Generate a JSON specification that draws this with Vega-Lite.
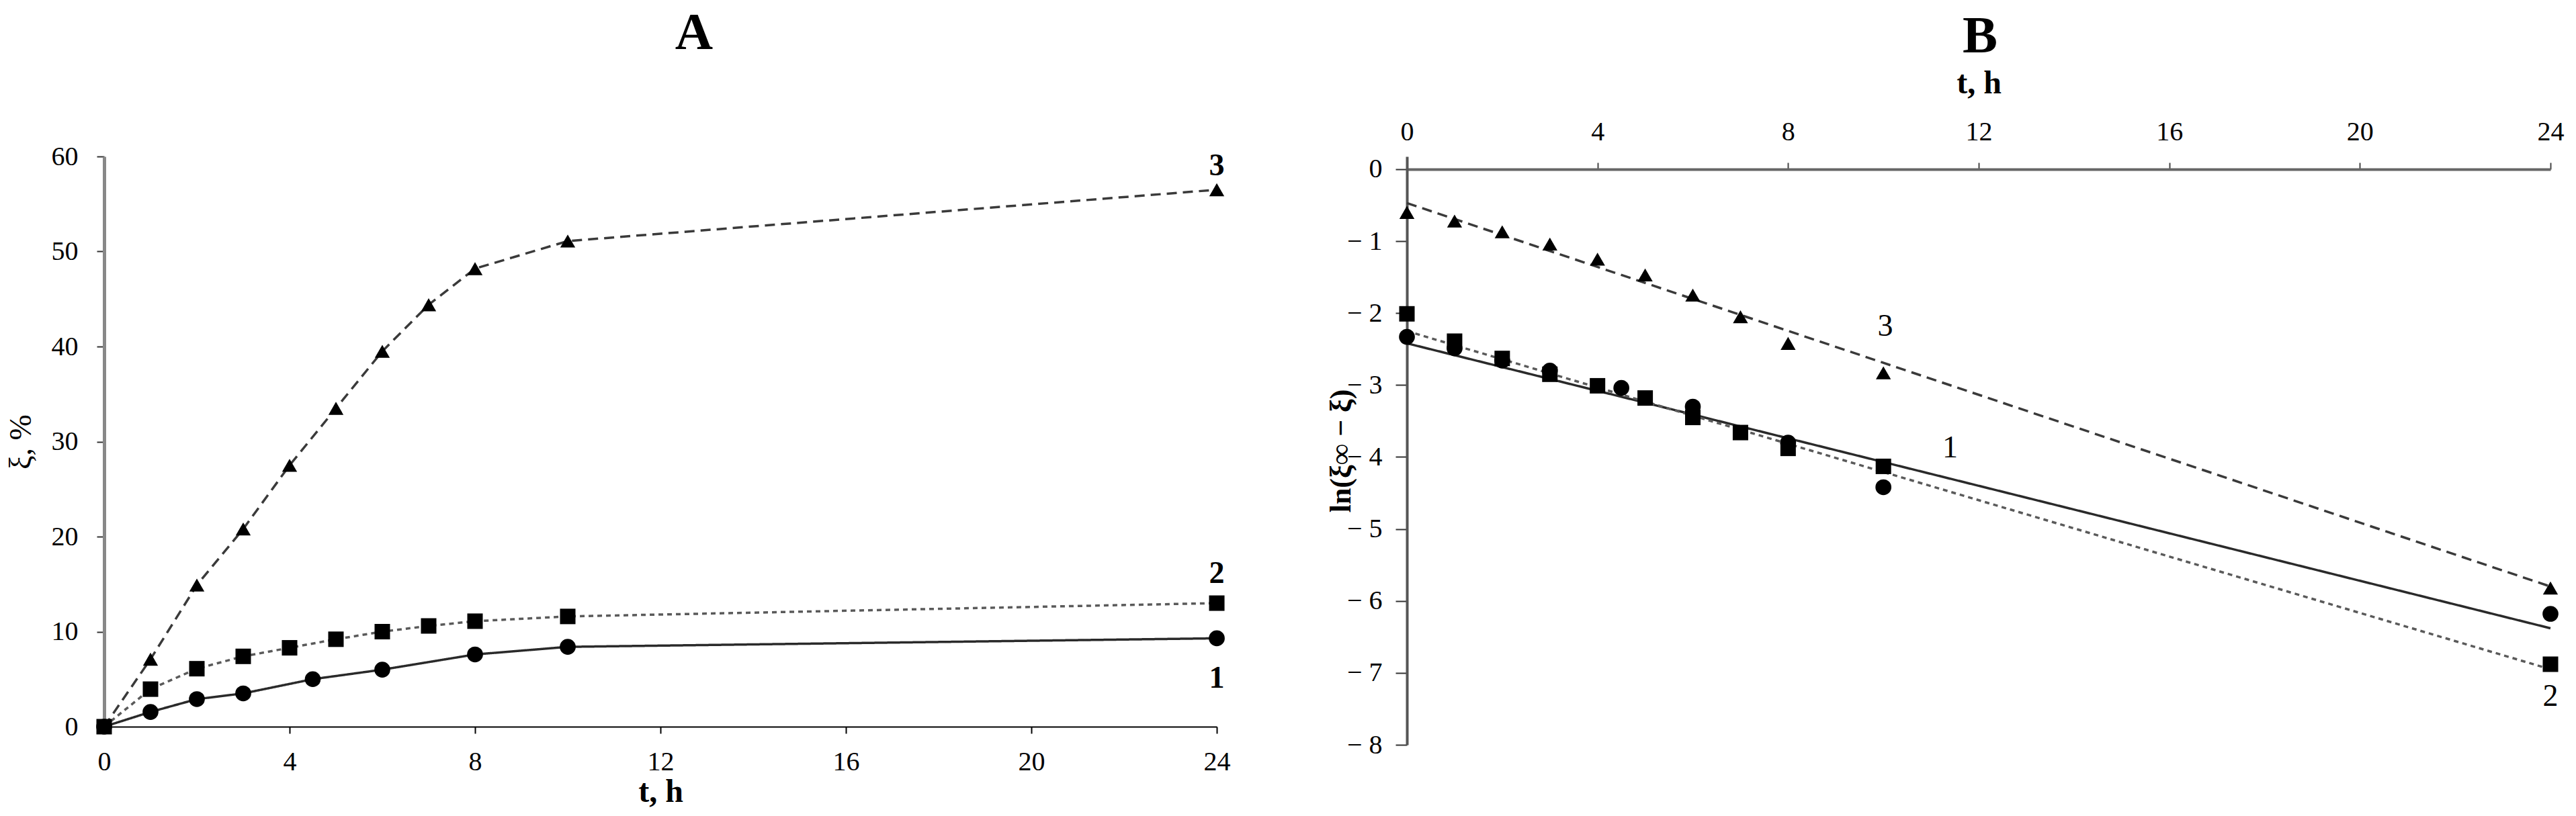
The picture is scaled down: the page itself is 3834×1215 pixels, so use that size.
{
  "$schema": "https://vega.github.io/schema/vega-lite/v6.json",
  "background": "white",
  "padding": {"left": 8, "top": 11, "right": 5, "bottom": 5},
  "bounds": "flush",
  "spacing": 283,
  "config": {
    "font": "Liberation Serif",
    "view": {"stroke": null},
    "axis": {"grid": false, "labelFont": "Liberation Serif", "titleFont": "Liberation Serif", "labelColor": "black", "titleColor": "black"}
  },
  "datasets": {
    "A": [
      {"series": "1", "t": 0, "v": 0}, {"series": "1", "t": 1, "v": 1.55}, {"series": "1", "t": 2, "v": 2.9}, {"series": "1", "t": 3, "v": 3.5}, {"series": "1", "t": 4.5, "v": 5.0}, {"series": "1", "t": 6, "v": 6.0}, {"series": "1", "t": 8, "v": 7.6}, {"series": "1", "t": 10, "v": 8.4}, {"series": "1", "t": 24, "v": 9.3},
      {"series": "2", "t": 0, "v": 0}, {"series": "2", "t": 1, "v": 3.95}, {"series": "2", "t": 2, "v": 6.1}, {"series": "2", "t": 3, "v": 7.4}, {"series": "2", "t": 4, "v": 8.3}, {"series": "2", "t": 5, "v": 9.2}, {"series": "2", "t": 6, "v": 10.0}, {"series": "2", "t": 7, "v": 10.6}, {"series": "2", "t": 8, "v": 11.1}, {"series": "2", "t": 10, "v": 11.6}, {"series": "2", "t": 24, "v": 13.0},
      {"series": "3", "t": 0, "v": 0}, {"series": "3", "t": 1, "v": 7.1}, {"series": "3", "t": 2, "v": 14.9}, {"series": "3", "t": 3, "v": 20.8}, {"series": "3", "t": 4, "v": 27.5}, {"series": "3", "t": 5, "v": 33.5}, {"series": "3", "t": 6, "v": 39.5}, {"series": "3", "t": 7, "v": 44.4}, {"series": "3", "t": 8, "v": 48.2}, {"series": "3", "t": 10, "v": 51.1}, {"series": "3", "t": 24, "v": 56.5}
    ],
    "Alab": [
      {"t": 24, "v": 59, "label": "3"}, {"t": 24, "v": 16.1, "label": "2"}, {"t": 24, "v": 5.1, "label": "1"}
    ],
    "Bpts": [
      {"series": "1", "t": 0, "v": -2.33}, {"series": "1", "t": 1, "v": -2.49}, {"series": "1", "t": 2, "v": -2.66}, {"series": "1", "t": 3, "v": -2.8}, {"series": "1", "t": 4.5, "v": -3.04}, {"series": "1", "t": 6, "v": -3.3}, {"series": "1", "t": 8, "v": -3.8}, {"series": "1", "t": 10, "v": -4.42}, {"series": "1", "t": 24, "v": -6.18},
      {"series": "2", "t": 0, "v": -2.01}, {"series": "2", "t": 1, "v": -2.39}, {"series": "2", "t": 2, "v": -2.63}, {"series": "2", "t": 3, "v": -2.85}, {"series": "2", "t": 4, "v": -3.01}, {"series": "2", "t": 5, "v": -3.18}, {"series": "2", "t": 6, "v": -3.45}, {"series": "2", "t": 7, "v": -3.66}, {"series": "2", "t": 8, "v": -3.88}, {"series": "2", "t": 10, "v": -4.13}, {"series": "2", "t": 24, "v": -6.88},
      {"series": "3", "t": 0, "v": -0.6}, {"series": "3", "t": 1, "v": -0.72}, {"series": "3", "t": 2, "v": -0.87}, {"series": "3", "t": 3, "v": -1.04}, {"series": "3", "t": 4, "v": -1.25}, {"series": "3", "t": 5, "v": -1.47}, {"series": "3", "t": 6, "v": -1.75}, {"series": "3", "t": 7, "v": -2.05}, {"series": "3", "t": 8, "v": -2.42}, {"series": "3", "t": 10, "v": -2.83}, {"series": "3", "t": 24, "v": -5.82}
    ],
    "Bfit": [
      {"series": "1", "t": 0, "v": -2.42}, {"series": "1", "t": 24, "v": -6.38},
      {"series": "2", "t": 0, "v": -2.25}, {"series": "2", "t": 24, "v": -6.95},
      {"series": "3", "t": 0, "v": -0.47}, {"series": "3", "t": 24, "v": -5.8}
    ],
    "Blab": [
      {"t": 10.04, "v": -2.18, "label": "3"}, {"t": 11.4, "v": -3.87, "label": "1"}, {"t": 24, "v": -7.33, "label": "2"}
    ]
  },
  "hconcat": [
    {
      "width": 1656,
      "height": 849,
      "title": {"text": "A", "fontSize": 78, "fontWeight": "bold", "font": "Liberation Serif", "anchor": "middle", "frame": "group", "dx": 50, "offset": 124, "color": "black"},
      "encoding": {
        "x": {"field": "t", "type": "quantitative", "scale": {"domain": [0, 24], "nice": false},
          "axis": {"values": [0, 4, 8, 12, 16, 20, 24], "title": "t, h", "titleFontSize": 48, "titleFontWeight": "bold", "titlePadding": 1,
            "labelFontSize": 40, "labelFontWeight": "normal", "labelPadding": 22, "tickSize": 10, "tickWidth": 2, "tickColor": "black", "domainColor": "black", "domainWidth": 2, "labelFlush": false}},
        "y": {"field": "v", "type": "quantitative", "scale": {"domain": [0, 60], "nice": false, "zero": false},
          "axis": {"values": [0, 10, 20, 30, 40, 50, 60], "title": "ξ, %", "titleFontSize": 46, "titleFontWeight": "normal", "titleX": -100,
            "labelFontSize": 40, "labelFontWeight": "normal", "labelPadding": 28, "tickSize": 11, "tickWidth": 2, "tickColor": "#333", "domainColor": "#888", "domainWidth": 5, "labelFlush": false}}
      },
      "layer": [
        {
          "data": {"name": "A"},
          "mark": {"type": "line", "strokeWidth": 3.5},
          "encoding": {
            "detail": {"field": "series"},
            "color": {"field": "series", "type": "nominal", "scale": {"domain": ["1", "2", "3"], "range": ["#2a2a2a", "#5a5a5a", "#3a3a3a"]}, "legend": null},
            "strokeDash": {"field": "series", "type": "nominal", "scale": {"domain": ["1", "2", "3"], "range": [[1, 0], [7, 6], [15, 9]]}, "legend": null}
          }
        },
        {
          "data": {"name": "A"},
          "mark": {"type": "point", "filled": true, "color": "black", "opacity": 1},
          "encoding": {
            "shape": {"field": "series", "type": "nominal", "scale": {"domain": ["1", "2", "3"], "range": ["circle", "square", "triangle-up"]}, "legend": null},
            "size": {"field": "series", "type": "nominal", "scale": {"domain": ["1", "2", "3"], "range": [560, 500, 720]}, "legend": null}
          }
        },
        {
          "data": {"name": "Alab"},
          "mark": {"type": "text", "fontSize": 46, "fontWeight": "bold", "font": "Liberation Serif", "color": "black"},
          "encoding": {"text": {"field": "label"}}
        }
      ]
    },
    {
      "width": 1702,
      "height": 876,
      "title": {"text": "B", "fontSize": 78, "fontWeight": "bold", "font": "Liberation Serif", "anchor": "middle", "frame": "group", "dx": 2, "offset": 6, "color": "black"},
      "encoding": {
        "x": {"field": "t", "type": "quantitative", "scale": {"domain": [0, 24], "nice": false},
          "axis": {"orient": "top", "offset": -19, "values": [0, 4, 8, 12, 16, 20, 24], "title": "t, h", "titleFontSize": 48, "titleFontWeight": "bold", "titlePadding": 28,
            "labelFontSize": 40, "labelFontWeight": "normal", "labelPadding": 26, "tickSize": 10, "tickWidth": 2, "tickColor": "#444", "domainColor": "#666", "domainWidth": 4, "labelFlush": false}},
        "y": {"field": "v", "type": "quantitative", "scale": {"domain": [-8, 0.177], "nice": false, "zero": false},
          "axis": {"values": [-8, -7, -6, -5, -4, -3, -2, -1, 0], "labelExpr": "datum.value < 0 ? '− ' + abs(datum.value) : '0'", "title": "ln(ξ∞ − ξ)", "titleFontSize": 44, "titleFontWeight": "bold", "titleX": -76,
            "labelFontSize": 40, "labelFontWeight": "normal", "labelPadding": 20, "tickSize": 17, "tickWidth": 2, "tickColor": "#333", "domainColor": "#555", "domainWidth": 4, "labelFlush": false}}
      },
      "layer": [
        {
          "data": {"name": "Bfit"},
          "mark": {"type": "line", "strokeWidth": 3.5},
          "encoding": {
            "detail": {"field": "series"},
            "color": {"field": "series", "type": "nominal", "scale": {"domain": ["1", "2", "3"], "range": ["#2a2a2a", "#4a4a4a", "#4a4a4a"]}, "legend": null},
            "strokeDash": {"field": "series", "type": "nominal", "scale": {"domain": ["1", "2", "3"], "range": [[1, 0], [7, 6], [15, 9]]}, "legend": null}
          }
        },
        {
          "data": {"name": "Bpts"},
          "mark": {"type": "point", "filled": true, "color": "black", "opacity": 1},
          "encoding": {
            "shape": {"field": "series", "type": "nominal", "scale": {"domain": ["1", "2", "3"], "range": ["circle", "square", "triangle-up"]}, "legend": null},
            "size": {"field": "series", "type": "nominal", "scale": {"domain": ["1", "2", "3"], "range": [600, 600, 820]}, "legend": null}
          }
        },
        {
          "data": {"name": "Blab"},
          "mark": {"type": "text", "fontSize": 46, "fontWeight": "normal", "font": "Liberation Serif", "color": "black"},
          "encoding": {"text": {"field": "label"}}
        }
      ]
    }
  ]
}
